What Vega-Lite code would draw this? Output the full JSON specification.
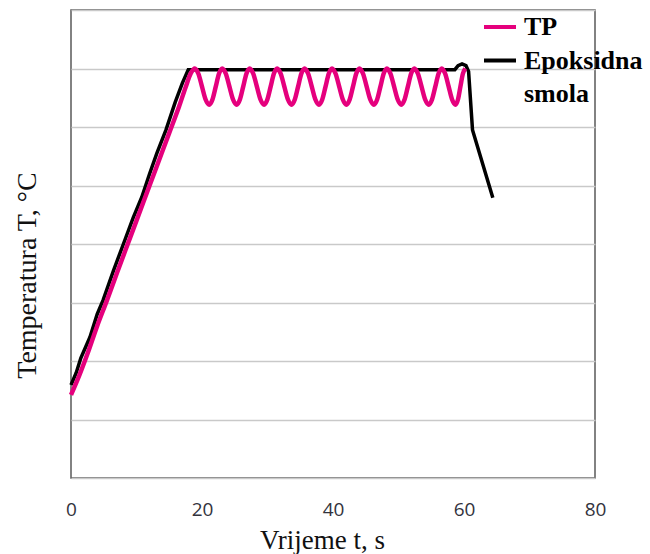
{
  "$schema": "https://vega.github.io/schema/vega-lite/v6.json",
  "width": 524,
  "height": 468,
  "autosize": {"type": "none"},
  "padding": {"left": 71, "top": 10, "right": 55, "bottom": 76},
  "background": "white",
  "config": {
    "view": {"stroke": "#5a5a5a", "strokeWidth": 1.5},
    "axis": {"labelFont": "Open Sans", "titleFont": "Liberation Serif", "titleFontWeight": "normal", "titleColor": "#111111"}
  },
  "datasets": {
    "epoksi": [
      {"t": 0, "T": 1.59}, {"t": 0.8, "T": 1.8}, {"t": 1.5, "T": 2.05}, {"t": 2.9, "T": 2.41},
      {"t": 4.0, "T": 2.8}, {"t": 4.9, "T": 3.04}, {"t": 6.5, "T": 3.55}, {"t": 8.0, "T": 4.0},
      {"t": 9.5, "T": 4.45}, {"t": 10.8, "T": 4.8}, {"t": 12.0, "T": 5.2}, {"t": 13.1, "T": 5.55},
      {"t": 14.5, "T": 5.95}, {"t": 15.9, "T": 6.42}, {"t": 17.0, "T": 6.75}, {"t": 17.9, "T": 6.98},
      {"t": 30, "T": 6.98}, {"t": 45, "T": 6.98}, {"t": 58.6, "T": 6.98}, {"t": 59.1, "T": 7.05},
      {"t": 59.7, "T": 7.08}, {"t": 60.3, "T": 7.05}, {"t": 60.7, "T": 6.95}, {"t": 61.3, "T": 5.95},
      {"t": 64.4, "T": 4.79}
    ],
    "tp": [
      {"t": 0, "T": 1.42}, {"t": 1, "T": 1.68}, {"t": 2.5, "T": 2.12}, {"t": 4, "T": 2.6},
      {"t": 5.5, "T": 3.04}, {"t": 7, "T": 3.5}, {"t": 9, "T": 4.1}, {"t": 11, "T": 4.7},
      {"t": 13, "T": 5.3}, {"t": 15, "T": 5.9}, {"t": 16.5, "T": 6.35}, {"t": 17.5, "T": 6.68},
      {"t": 18.3, "T": 6.92}, {"t": 18.9, "T": 7.0},
      {"t": 19.45, "T": 6.91}, {"t": 20.0, "T": 6.69}, {"t": 20.55, "T": 6.47}, {"t": 21.1, "T": 6.38},
      {"t": 21.6, "T": 6.47}, {"t": 22.1, "T": 6.69}, {"t": 22.59, "T": 6.91}, {"t": 23.09, "T": 7.0},
      {"t": 23.64, "T": 6.91}, {"t": 24.19, "T": 6.69}, {"t": 24.74, "T": 6.47}, {"t": 25.29, "T": 6.38},
      {"t": 25.79, "T": 6.47}, {"t": 26.29, "T": 6.69}, {"t": 26.78, "T": 6.91}, {"t": 27.28, "T": 7.0},
      {"t": 27.83, "T": 6.91}, {"t": 28.38, "T": 6.69}, {"t": 28.93, "T": 6.47}, {"t": 29.48, "T": 6.38},
      {"t": 29.98, "T": 6.47}, {"t": 30.48, "T": 6.69}, {"t": 30.97, "T": 6.91}, {"t": 31.47, "T": 7.0},
      {"t": 32.02, "T": 6.91}, {"t": 32.57, "T": 6.69}, {"t": 33.12, "T": 6.47}, {"t": 33.67, "T": 6.38},
      {"t": 34.17, "T": 6.47}, {"t": 34.67, "T": 6.69}, {"t": 35.16, "T": 6.91}, {"t": 35.66, "T": 7.0},
      {"t": 36.21, "T": 6.91}, {"t": 36.76, "T": 6.69}, {"t": 37.31, "T": 6.47}, {"t": 37.86, "T": 6.38},
      {"t": 38.36, "T": 6.47}, {"t": 38.86, "T": 6.69}, {"t": 39.35, "T": 6.91}, {"t": 39.85, "T": 7.0},
      {"t": 40.4, "T": 6.91}, {"t": 40.95, "T": 6.69}, {"t": 41.5, "T": 6.47}, {"t": 42.05, "T": 6.38},
      {"t": 42.55, "T": 6.47}, {"t": 43.05, "T": 6.69}, {"t": 43.54, "T": 6.91}, {"t": 44.04, "T": 7.0},
      {"t": 44.59, "T": 6.91}, {"t": 45.14, "T": 6.69}, {"t": 45.69, "T": 6.47}, {"t": 46.24, "T": 6.38},
      {"t": 46.74, "T": 6.47}, {"t": 47.24, "T": 6.69}, {"t": 47.73, "T": 6.91}, {"t": 48.23, "T": 7.0},
      {"t": 48.78, "T": 6.91}, {"t": 49.33, "T": 6.69}, {"t": 49.88, "T": 6.47}, {"t": 50.43, "T": 6.38},
      {"t": 50.93, "T": 6.47}, {"t": 51.43, "T": 6.69}, {"t": 51.92, "T": 6.91}, {"t": 52.42, "T": 7.0},
      {"t": 52.97, "T": 6.91}, {"t": 53.52, "T": 6.69}, {"t": 54.07, "T": 6.47}, {"t": 54.62, "T": 6.38},
      {"t": 55.12, "T": 6.47}, {"t": 55.62, "T": 6.69}, {"t": 56.11, "T": 6.91}, {"t": 56.61, "T": 7.0},
      {"t": 57.13, "T": 6.91}, {"t": 57.66, "T": 6.69}, {"t": 58.18, "T": 6.47}, {"t": 58.7, "T": 6.38},
      {"t": 59.08, "T": 6.47}, {"t": 59.45, "T": 6.69}, {"t": 59.83, "T": 6.91}, {"t": 60.2, "T": 7.0}
    ]
  },
  "encoding": {
    "x": {
      "field": "t", "type": "quantitative",
      "scale": {"domain": [0, 80], "nice": false},
      "axis": {
        "values": [0, 20, 40, 60, 80], "grid": false, "ticks": false, "domain": false,
        "labelFlush": false, "labelDx": 3,
        "labelFontSize": 19, "labelColor": "#33333d", "labelPadding": 22,
        "title": "Vrijeme t, s", "titleFontSize": 27, "titleBaseline": "alphabetic",
        "titleX": 251, "titleY": 70, "titleAlign": "center"
      }
    },
    "y": {
      "field": "T", "type": "quantitative",
      "scale": {"domain": [0, 8], "nice": false},
      "axis": {
        "values": [0, 1, 2, 3, 4, 5, 6, 7, 8], "labels": false, "ticks": false, "domain": false,
        "grid": true, "gridColor": "#c9c9c9", "gridWidth": 1.5,
        "title": "Temperatura T, °C", "titleFontSize": 28, "titleAngle": -90,
        "titleBaseline": "alphabetic", "titleAlign": "center", "titleX": -36, "titleY": 265
      }
    },
    "color": {
      "field": "serija", "type": "nominal",
      "scale": {"domain": ["TP", "Epoksidna smola", "smola"], "range": ["#e5007d", "#000000", "rgba(0,0,0,0)"]},
      "legend": {
        "title": null, "orient": "none", "legendX": 411, "legendY": -1, "padding": 0,
        "symbolType": "stroke", "symbolSize": 1024, "symbolStrokeWidth": 4,
        "labelFont": "Liberation Serif", "labelFontWeight": "bold", "labelFontSize": 26,
        "labelColor": "#000000", "labelOffset": 6, "rowPadding": 2.5, "labelLimit": 300,
        "labelExpr": "datum.label == 'Epoksidna smola' ? 'Epoksidna' : datum.label"
      }
    }
  },
  "layer": [
    {
      "data": {"name": "epoksi"},
      "transform": [{"calculate": "'Epoksidna smola'", "as": "serija"}],
      "mark": {"type": "line", "strokeWidth": 3.5, "interpolate": "linear"}
    },
    {
      "data": {"name": "tp"},
      "transform": [{"calculate": "'TP'", "as": "serija"}],
      "mark": {"type": "line", "strokeWidth": 4.5, "interpolate": "monotone"}
    }
  ]
}
